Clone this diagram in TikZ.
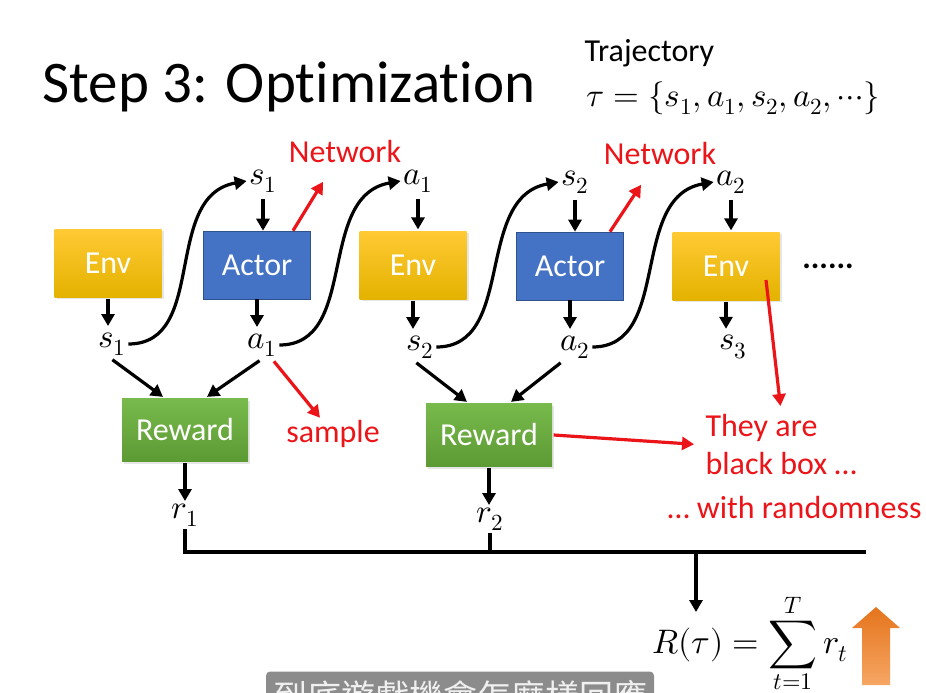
\documentclass[tikz,border=0pt]{standalone}
\usepackage{fontspec}
\usepackage{unicode-math}
\setmainfont{Carlito}[Ligatures=NoCommon]
\setmathfont{Latin Modern Math}
\newfontfamily\cjkfont{Noto Sans CJK TC}
\usetikzlibrary{arrows.meta,shadows}

\definecolor{envtop}{RGB}{255,202,52}
\definecolor{envbot}{RGB}{228,178,0}
\definecolor{actorblue}{RGB}{68,114,196}
\definecolor{actoredge}{RGB}{47,82,143}
\definecolor{rewtop}{RGB}{120,186,76}
\definecolor{rewbot}{RGB}{92,154,52}
\definecolor{notered}{RGB}{235,20,25}
\definecolor{orgtop}{RGB}{229,116,28}
\definecolor{orgbot}{RGB}{246,166,100}
\definecolor{subgray}{RGB}{140,140,140}

\newcommand{\fsz}[1]{\fontsize{#1}{#1}\selectfont}

\begin{document}
\begin{tikzpicture}[
    x=1pt, y=-1pt,
    >={Triangle[length=12pt,width=13pt]},
    line width=3.2pt,
    every node/.style={inner sep=1pt},
    box/.style={rectangle, minimum width=107pt, minimum height=68pt, text=white, font=\fsz{32}},
    envbox/.style={box, top color=envtop, bottom color=envbot,
        drop shadow={opacity=0.2, shadow xshift=2pt, shadow yshift=-2pt}},
    actorbox/.style={box, fill=actorblue, draw=actoredge, line width=0.6pt},
    rewardbox/.style={box, minimum width=126pt, minimum height=63pt, top color=rewtop, bottom color=rewbot,
        drop shadow={opacity=0.2, shadow xshift=2pt, shadow yshift=-2pt}},
    lab/.style={font=\fsz{33}},
    note/.style={text=notered, font=\fsz{32}},
    redarrow/.style={->, draw=notered},
    wave/.style={->, to path={.. controls +(80,0) and +(-85,15) .. (\tikztotarget)}}
]
  \useasboundingbox (0,0) rectangle (926,693);
  \clip (0,0) rectangle (926,693);

  % title
  \node[font=\fsz{59}, anchor=base west] (title) at (40,102) {Step 3: Optimization};
  \node[font=\fsz{32}, anchor=base west] (traj) at (582,62) {Trajectory};
  \node[font=\fsz{33}, anchor=base west] (tau) at (584,106) {$\tau=\{s_1,a_1,s_2,a_2,\cdots\}$};

  % boxes
  \node[envbox]   (env1)   at (108,263) {Env};
  \node[actorbox] (actor1) at (257,265) {Actor};
  \node[envbox]   (env2)   at (413,265) {Env};
  \node[actorbox] (actor2) at (570,266) {Actor};
  \node[envbox]   (env3)   at (726,266) {Env};
  \node[font=\fsz{32}\bfseries] (dots) at (828,266) {......};

  % states and actions
  \node[lab] (s1t) at (263,181) {$s_1$};
  \node[lab] (a1t) at (418,181) {$a_1$};
  \node[lab] (s2t) at (575,182) {$s_2$};
  \node[lab] (a2t) at (731,182) {$a_2$};
  \node[lab] (s1b) at (112,344) {$s_1$};
  \node[lab] (a1b) at (262,345) {$a_1$};
  \node[lab] (s2b) at (420,347) {$s_2$};
  \node[lab] (a2b) at (575,347) {$a_2$};
  \node[lab] (s3b) at (733,347) {$s_3$};

  % reward
  \node[rewardbox] (rew1) at (185,430) {Reward};
  \node[rewardbox] (rew2) at (489,435) {Reward};
  \node[lab] (r1) at (185,515) {$r_1$};
  \node[lab] (r2) at (490,519) {$r_2$};
  \node[font=\fsz{34}, anchor=base] (ret) at (750,653) {$\displaystyle R(\tau)=\sum_{t=1}^{T} r_t$};

  % notes
  \node[note] (net1) at (345,152) {Network};
  \node[note] (net2) at (660,154) {Network};
  \node[note] (sample) at (333,434) {sample};
  \node[note, font=\fontsize{32}{38}\selectfont, align=left, anchor=north west] (they) at (703,412) {They are\\black box \ldots};
  \node[note, anchor=base west] (rand) at (665,518) {\ldots{} with randomness};

  % edges
  \draw[->, shorten <=4pt] (s1t) -- (s1t |- actor1.north);
  \draw[->, shorten <=4pt] (a1t) -- (a1t |- env2.north);
  \draw[->, shorten <=4pt] (s2t) -- (s2t |- actor2.north);
  \draw[->, shorten <=4pt] (a2t) -- (a2t |- env3.north);
  \draw[->, shorten >=4pt] (env1) -- (env1 |- s1b.north);
  \draw[->, shorten >=4pt] (actor1) -- (actor1 |- a1b.north);
  \draw[->, shorten >=4pt] (env2) -- (env2 |- s2b.north);
  \draw[->, shorten >=4pt] (actor2) -- (actor2 |- a2b.north);
  \draw[->, shorten >=4pt] (env3) -- (env3 |- s3b.north);

  \draw[wave] (s1b.east) to (s1t.west);
  \draw[wave] (a1b.east) to (a1t.west);
  \draw[wave] (s2b.east) to (s2t.west);
  \draw[wave] (a2b.east) to (a2t.west);

  \draw[->, shorten <=3pt] ([xshift=-2pt]s1b.south) -- ([xshift=-22pt]rew1.north);
  \draw[->, shorten <=3pt] (a1b.south) -- ([xshift=22pt]rew1.north);
  \draw[->, shorten <=3pt] ([xshift=-6pt]s2b.south) -- ([xshift=-22pt]rew2.north);
  \draw[->, shorten <=3pt] ([xshift=-12pt]a2b.south) -- ([xshift=22pt]rew2.north);
  \draw[->] (rew1) -- (rew1 |- r1.north);
  \draw[->] (rew2) -- (rew2 |- r2.north);

  \coordinate (busR) at (866,552);
  \coordinate (busOut) at (696,552);
  \coordinate (retIn) at (696,612);
  \draw (r1.south) |- (busR);
  \draw (r2.south) -- (r2.south |- busR);
  \draw[->] (busOut) -- (retIn);

  \draw[redarrow] ([xshift=36pt]actor1.north) -- ([xshift=-22pt,yshift=-16pt]net1.south);
  \draw[redarrow] ([xshift=40pt]actor2.north) -- ([xshift=-19pt,yshift=-17pt]net2.south);
  \draw[redarrow, shorten <=3pt] ([xshift=10pt]a1b.south) -- ([xshift=-13pt]sample.north);
  \draw[redarrow, shorten >=9pt] (rew2.east) -- (they.west);
  \draw[redarrow, shorten >=6pt] ([xshift=40pt,yshift=-14pt]env3.center) -- (they.north);

  % rising return
  \shade[top color=orgtop, bottom color=orgbot] (862,685) -- (862,628) -- (852,628) -- (876,607)
    -- (900,628) -- (890,628) -- (890,685) -- cycle;

  % subtitle
  \node[fill=subgray, rounded corners=4pt, text=white!94!black, font=\cjkfont\fsz{34},
    minimum width=388pt, minimum height=50pt, anchor=north] (sub) at (460,670) {到底遊戲機會怎麼樣回應};
\end{tikzpicture}
\end{document}
